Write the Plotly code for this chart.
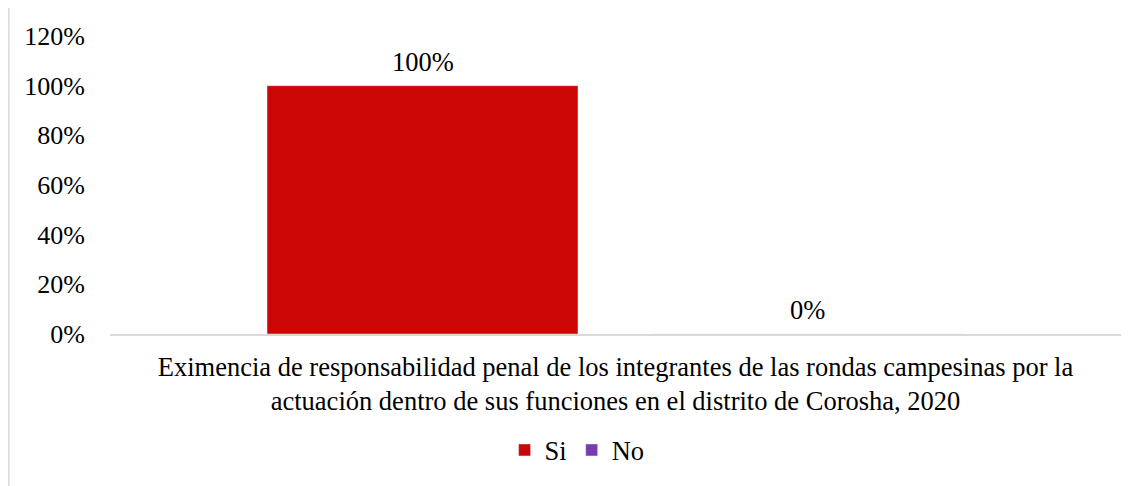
import plotly.graph_objects as go

# datos del gráfico
categorias = ["Eximencia de responsabilidad penal de los integrantes de las rondas campesinas por la<br>actuación dentro de sus funciones en el distrito de Corosha, 2020"]
si_valores = [1.0]
no_valores = [0.0]
y_ticks = [0, 0.2, 0.4, 0.6, 0.8, 1.0, 1.2]

fuente = dict(family="Liberation Serif, Times New Roman, serif", size=26.5, color="#000000")

# geometría de barras (fracción del ancho de categoría)
ancho = 0.3076
off_si = -0.3447
off_no = 0.0366

fig = go.Figure()
fig.add_trace(go.Bar(
    x=categorias, y=si_valores, name="Si",
    marker=dict(color="#CC0605"), width=ancho, offset=off_si,
))
fig.add_trace(go.Bar(
    x=categorias, y=no_valores, name="No",
    marker=dict(color="#7B3AAE"), width=ancho, offset=off_no,
))

# etiquetas de datos
for off, vals in [(off_si, si_valores), (off_no, no_valores)]:
    for v in vals:
        fig.add_annotation(x=off + ancho / 2, y=v, text=f"{v:.0%}", showarrow=False,
                           yshift=24, yanchor="middle", font=fuente)

# borde exterior del gráfico
fig.add_shape(
    type="rect", xref="paper", yref="paper",
    x0=-0.1, x1=1.1, y0=-0.6, y1=1.097,
    line=dict(color="#D9D9D9", width=1.5), layer="below",
)

fig.update_layout(
    width=1139, height=478,
    margin=dict(l=102, r=26, t=28, b=150),
    paper_bgcolor="white", plot_bgcolor="white",
    font=fuente,
    barmode="group",
    showlegend=True,
    legend=dict(orientation="h", x=0.462, xanchor="center", y=-0.39, yanchor="middle",
                font=fuente, itemwidth=30, traceorder="normal"),
    xaxis=dict(showline=True, linecolor="#D9D9D9", linewidth=2, ticks="",
               showgrid=False, tickfont=fuente, ticklabelstandoff=8),
    yaxis=dict(range=[0, 1.2], tickvals=y_ticks, tickformat=".0%", showgrid=False,
               zeroline=False, showline=False, ticks="outside", ticklen=19,
               tickcolor="rgba(0,0,0,0)", tickfont=dict(fuente, size=26)),
)

fig.write_html("out.html")
